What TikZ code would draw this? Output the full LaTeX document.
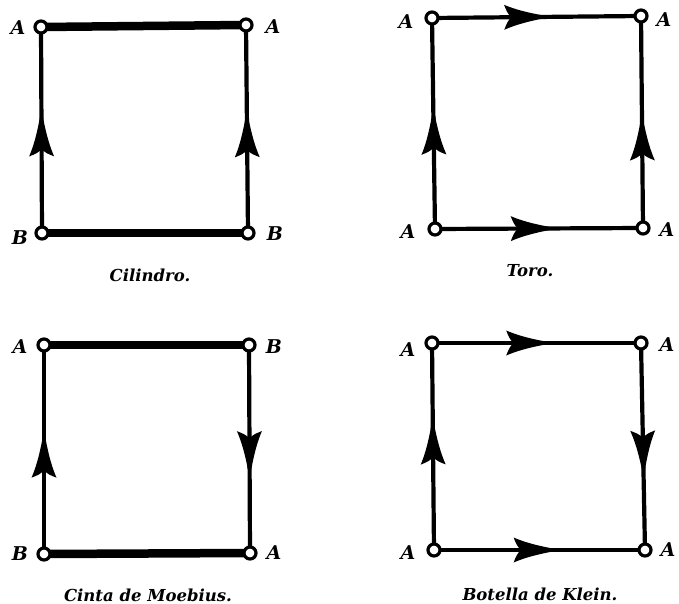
\documentclass[tikz,border=0pt]{standalone}
\usepackage{fontspec}
\setmainfont{DejaVu Serif}
\usetikzlibrary{decorations.markings,backgrounds}
\tikzset{
  vtx/.style={circle,draw,line width=3.2pt,fill=white,minimum size=12pt,inner sep=0pt},
  lbl/.style={font=\fontsize{19}{19}\selectfont\bfseries\itshape,inner sep=0pt},
  captxt/.style={font=\fontsize{16.5}{16.5}\selectfont\bfseries\itshape,inner sep=0pt},
  thickedge/.style={line width=8.5pt},
  thinedge/.style={line width=4.2pt},
  midarrow/.style={postaction={decorate,decoration={markings,
    mark=at position #1 with {\fill (0pt,0pt) .. controls (-16pt,3pt) and (-32pt,6pt) .. (-47pt,12.5pt)
      .. controls (-44pt,5pt) .. (-40pt,0pt)
      .. controls (-44pt,-5pt) .. (-47pt,-12.5pt)
      .. controls (-32pt,-6pt) and (-16pt,-3pt) .. (0pt,0pt) -- cycle;}}}}
}
\begin{document}
\begin{tikzpicture}[x=1pt,y=-1pt]
\useasboundingbox (0,0) rectangle (679,604);
% Cilindro
\node[vtx] (c1) at (41,27) {};
\node[vtx] (c2) at (246,25) {};
\node[vtx] (c3) at (42,233) {};
\node[vtx] (c4) at (248,233) {};
% Toro
\node[vtx] (t1) at (432,18) {};
\node[vtx] (t2) at (641,16) {};
\node[vtx] (t3) at (435,229) {};
\node[vtx] (t4) at (643,228) {};
% Moebius
\node[vtx] (m1) at (44,345) {};
\node[vtx] (m2) at (249,345) {};
\node[vtx] (m3) at (44,554) {};
\node[vtx] (m4) at (250,553) {};
% Klein
\node[vtx] (k1) at (432,343) {};
\node[vtx] (k2) at (641,343) {};
\node[vtx] (k3) at (434,550) {};
\node[vtx] (k4) at (645,550) {};
\begin{scope}[on background layer]
\draw[thickedge] (c1.center) -- (c2.center);
\draw[thickedge] (c3.center) -- (c4.center);
\draw[thinedge,midarrow=0.6] (c3.center) -- (c1.center);
\draw[thinedge,midarrow=0.59] (c4.center) -- (c2.center);
\draw[thinedge,midarrow=0.57] (t1.center) -- (t2.center);
\draw[thinedge,midarrow=0.59] (t3.center) -- (t4.center);
\draw[thinedge,midarrow=0.575] (t3.center) -- (t1.center);
\draw[thinedge,midarrow=0.54] (t4.center) -- (t2.center);
\draw[thickedge] (m1.center) -- (m2.center);
\draw[thickedge] (m3.center) -- (m4.center);
\draw[thinedge,midarrow=0.59] (m3.center) -- (m1.center);
\draw[thinedge,midarrow=0.64] (m2.center) -- (m4.center);
\draw[thinedge,midarrow=0.58] (k1.center) -- (k2.center);
\draw[thinedge,midarrow=0.6] (k3.center) -- (k4.center);
\draw[thinedge,midarrow=0.64] (k3.center) -- (k1.center);
\draw[thinedge,midarrow=0.65] (k2.center) -- (k4.center);
\end{scope}
% labels
\node[lbl] (lc1) at (18,28) {A};
\node[lbl] (lc2) at (273,27) {A};
\node[lbl] (lc3) at (20,238) {B};
\node[lbl] (lc4) at (275,234) {B};
\node[lbl] (lt1) at (406,22) {A};
\node[lbl] (lt2) at (664,20) {A};
\node[lbl] (lt3) at (408,232) {A};
\node[lbl] (lt4) at (667,230) {A};
\node[lbl] (lm1) at (20,347) {A};
\node[lbl] (lm2) at (274,347) {B};
\node[lbl] (lm3) at (20,554) {B};
\node[lbl] (lm4) at (274,553) {A};
\node[lbl] (lk1) at (408,350) {A};
\node[lbl] (lk2) at (667,345) {A};
\node[lbl] (lk3) at (408,553) {A};
\node[lbl] (lk4) at (668,550) {A};
% captions
\node[captxt] (cc) at (150,275) {Cilindro.};
\node[captxt] (ct) at (530,271) {Toro.};
\node[captxt] (cm) at (148,595) {Cinta de Moebius.};
\node[captxt] (ck) at (540,594) {Botella de Klein.};
\end{tikzpicture}
\end{document}
